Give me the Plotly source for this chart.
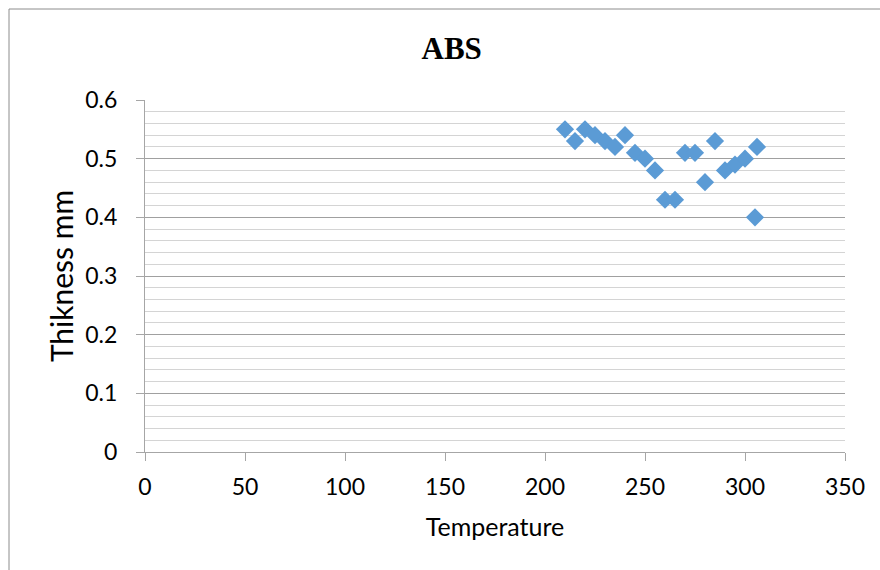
import plotly.graph_objects as go

temperature = [210, 215, 220, 225, 230, 235, 240, 245, 250, 255, 260, 265,
               270, 275, 280, 285, 290, 295, 300, 305, 306]
thickness = [0.55, 0.53, 0.55, 0.54, 0.53, 0.52, 0.54, 0.51, 0.50, 0.48, 0.43, 0.43,
             0.51, 0.51, 0.46, 0.53, 0.48, 0.49, 0.50, 0.40, 0.52]

chart_title = "ABS"
x_title = "Temperature"
y_title = "Thikness mm"

fig = go.Figure()
fig.add_trace(go.Scatter(
    x=temperature, y=thickness, mode="markers",
    marker=dict(symbol="diamond", size=14, color="#5B9BD5"),
    showlegend=False,
))

fig.update_layout(
    width=880, height=570,
    margin=dict(l=145, r=35, t=100, b=118),
    paper_bgcolor="white", plot_bgcolor="white",
    font=dict(family="Lato", color="#000000"),
    title=dict(text="<b>" + chart_title + "</b>",
               font=dict(family="Liberation Serif", size=31, color="#000000"),
               x=451.7 / 880, xref="container", xanchor="center",
               y=1 - 48 / 570, yref="container", yanchor="middle"),
    shapes=[dict(type="rect", xref="paper", yref="paper",
                 x0=(9 - 145) / 700, x1=1.3, y0=-0.6, y1=(452 - 9) / 352,
                 line=dict(color="#8C8C8C", width=1), layer="below")],
)

fig.update_xaxes(
    range=[0, 350], dtick=50, tick0=0,
    showgrid=False, zeroline=False,
    showline=True, linecolor="#A6A6A6", linewidth=1.3,
    ticks="outside", ticklen=8, tickcolor="#A6A6A6", tickwidth=1.3,
    tickfont=dict(size=23, family="Lato"),
    ticklabelstandoff=6,
    title=dict(text=x_title, font=dict(size=25, family="Lato"), standoff=19),
)
fig.update_yaxes(
    range=[0, 0.6], dtick=0.1, tick0=0,
    showgrid=True, gridcolor="#A0A0A0", gridwidth=1.3,
    minor=dict(dtick=0.02, showgrid=True, gridcolor="#D4D4D4", gridwidth=1.3),
    zeroline=False,
    showline=True, linecolor="#A6A6A6", linewidth=1.3,
    ticks="outside", ticklen=8, tickcolor="#A6A6A6", tickwidth=1.3,
    tickfont=dict(size=23, family="Lato"),
    ticklabelstandoff=14,
    title=dict(text=y_title, font=dict(size=30, family="Lato"), standoff=2),
)

fig.write_html("out.html")
